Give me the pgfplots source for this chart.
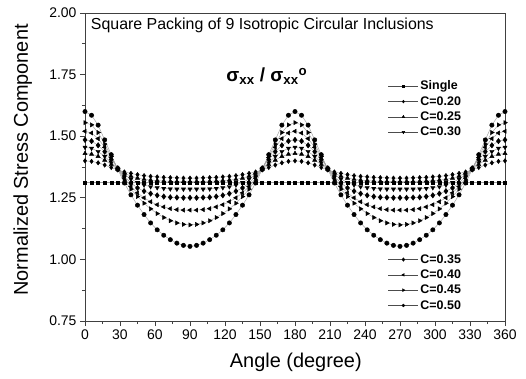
\documentclass[border=0pt]{standalone}
\usepackage{fontspec}
\setmainfont{Liberation Sans}
\usepackage{pgfplots}
\usepackage{pgfplotstable}
\pgfplotsset{compat=1.18}

% Normalized stress sigma_xx / sigma_xx^o around the inclusion boundary
\pgfplotstableread{
ang      s      c20   c25   c30   c35   c40   c45   c50
0        1.313  1.400 1.430 1.455 1.485 1.520 1.555 1.600
5.625    1.313  1.398 1.427 1.451 1.480 1.513 1.546 1.585
11.25    1.313  1.392 1.418 1.438 1.463 1.490 1.515 1.545
16.875   1.313  1.383 1.403 1.418 1.437 1.455 1.468 1.485
22.5     1.313  1.373 1.385 1.393 1.405 1.413 1.418 1.425
28.125   1.313  1.363 1.365 1.367 1.370 1.370 1.368 1.365
33.75    1.313  1.355 1.350 1.345 1.338 1.330 1.322 1.310
39.375   1.313  1.349 1.338 1.326 1.310 1.296 1.285 1.262
45       1.313  1.344 1.330 1.312 1.290 1.270 1.255 1.220
50.625   1.313  1.340 1.325 1.302 1.277 1.250 1.228 1.182
56.25    1.313  1.337 1.322 1.295 1.267 1.234 1.205 1.148
61.875   1.313  1.335 1.320 1.291 1.260 1.222 1.186 1.120
67.5     1.313  1.333 1.318 1.288 1.255 1.213 1.170 1.098
73.125   1.313  1.332 1.317 1.286 1.252 1.206 1.157 1.080
78.75    1.313  1.331 1.316 1.285 1.251 1.202 1.148 1.066
84.375   1.313  1.330 1.316 1.285 1.250 1.200 1.142 1.057
90       1.313  1.330 1.316 1.285 1.250 1.200 1.140 1.053
95.625   1.313  1.330 1.316 1.285 1.250 1.200 1.142 1.057
101.25   1.313  1.331 1.316 1.285 1.251 1.202 1.148 1.066
106.875  1.313  1.332 1.317 1.286 1.252 1.206 1.157 1.080
112.5    1.313  1.333 1.318 1.288 1.255 1.213 1.170 1.098
118.125  1.313  1.335 1.320 1.291 1.260 1.222 1.186 1.120
123.75   1.313  1.337 1.322 1.295 1.267 1.234 1.205 1.148
129.375  1.313  1.340 1.325 1.302 1.277 1.250 1.228 1.182
135      1.313  1.344 1.330 1.312 1.290 1.270 1.255 1.220
140.625  1.313  1.349 1.338 1.326 1.310 1.296 1.285 1.262
146.25   1.313  1.355 1.350 1.345 1.338 1.330 1.322 1.310
151.875  1.313  1.363 1.365 1.367 1.370 1.370 1.368 1.365
157.5    1.313  1.373 1.385 1.393 1.405 1.413 1.418 1.425
163.125  1.313  1.383 1.403 1.418 1.437 1.455 1.468 1.485
168.75   1.313  1.392 1.418 1.438 1.463 1.490 1.515 1.545
174.375  1.313  1.398 1.427 1.451 1.480 1.513 1.546 1.585
180      1.313  1.400 1.430 1.455 1.485 1.520 1.555 1.600
185.625  1.313  1.398 1.427 1.451 1.480 1.513 1.546 1.585
191.25   1.313  1.392 1.418 1.438 1.463 1.490 1.515 1.545
196.875  1.313  1.383 1.403 1.418 1.437 1.455 1.468 1.485
202.5    1.313  1.373 1.385 1.393 1.405 1.413 1.418 1.425
208.125  1.313  1.363 1.365 1.367 1.370 1.370 1.368 1.365
213.75   1.313  1.355 1.350 1.345 1.338 1.330 1.322 1.310
219.375  1.313  1.349 1.338 1.326 1.310 1.296 1.285 1.262
225      1.313  1.344 1.330 1.312 1.290 1.270 1.255 1.220
230.625  1.313  1.340 1.325 1.302 1.277 1.250 1.228 1.182
236.25   1.313  1.337 1.322 1.295 1.267 1.234 1.205 1.148
241.875  1.313  1.335 1.320 1.291 1.260 1.222 1.186 1.120
247.5    1.313  1.333 1.318 1.288 1.255 1.213 1.170 1.098
253.125  1.313  1.332 1.317 1.286 1.252 1.206 1.157 1.080
258.75   1.313  1.331 1.316 1.285 1.251 1.202 1.148 1.066
264.375  1.313  1.330 1.316 1.285 1.250 1.200 1.142 1.057
270      1.313  1.330 1.316 1.285 1.250 1.200 1.140 1.053
275.625  1.313  1.330 1.316 1.285 1.250 1.200 1.142 1.057
281.25   1.313  1.331 1.316 1.285 1.251 1.202 1.148 1.066
286.875  1.313  1.332 1.317 1.286 1.252 1.206 1.157 1.080
292.5    1.313  1.333 1.318 1.288 1.255 1.213 1.170 1.098
298.125  1.313  1.335 1.320 1.291 1.260 1.222 1.186 1.120
303.75   1.313  1.337 1.322 1.295 1.267 1.234 1.205 1.148
309.375  1.313  1.340 1.325 1.302 1.277 1.250 1.228 1.182
315      1.313  1.344 1.330 1.312 1.290 1.270 1.255 1.220
320.625  1.313  1.349 1.338 1.326 1.310 1.296 1.285 1.262
326.25   1.313  1.355 1.350 1.345 1.338 1.330 1.322 1.310
331.875  1.313  1.363 1.365 1.367 1.370 1.370 1.368 1.365
337.5    1.313  1.373 1.385 1.393 1.405 1.413 1.418 1.425
343.125  1.313  1.383 1.403 1.418 1.437 1.455 1.468 1.485
348.75   1.313  1.392 1.418 1.438 1.463 1.490 1.515 1.545
354.375  1.313  1.398 1.427 1.451 1.480 1.513 1.546 1.585
360      1.313  1.400 1.430 1.455 1.485 1.520 1.555 1.600
}\stressdata

\pgfplotsset{
  stressaxis/.style={
    width=420bp, height=308bp, scale only axis,
    xmin=0, xmax=360, ymin=0.75, ymax=2.0,
  },
  curve/.style={gray!75, line width=0.45bp,
    legend image code/.code={%
      \draw[##1,black!70,mark indices={2},every mark/.append style={scale=0.65}]
        plot coordinates {(0bp,0bp) (15bp,0bp) (30bp,0bp)};}},
  mylegend/.style={
    legend cell align=left,
    legend style={draw=none, fill=none,
      font=\fontsize{12.5}{15}\selectfont\bfseries,
      inner sep=0pt, row sep=1.5bp,
      nodes={inner sep=1.8bp}},
  },
}

\begin{document}
\begin{tikzpicture}
\begin{axis}[stressaxis, name=main,
  axis line style={black!75, line width=0.9bp},
  tick align=outside, tick pos=left,
  xtick distance=30, ytick={0.75,1.00,1.25,1.50,1.75,2.00},
  minor x tick num=1, minor y tick num=1,
  major tick length=5bp, minor tick length=3bp,
  every tick/.style={black!75, line width=0.8bp},
  ticklabel style={font=\fontsize{14}{16}\selectfont},
  /pgf/number format/assume math mode=true,
  yticklabel style={/pgf/number format/.cd, fixed, fixed zerofill, precision=2},
  xlabel={Angle (degree)}, ylabel={Normalized Stress Component},
  label style={font=\fontsize{20}{24}\selectfont},
  xlabel style={at={(axis description cs:0.502,-0.133)}, anchor=center},
  ylabel style={at={(axis description cs:-0.148,0.523)}, anchor=center},
  mylegend, legend style={at={(axis description cs:0.7214,0.688)}, anchor=west},
]
\addplot[curve, mark=square*, mark size=1.5bp, mark options={black, fill=black}]
  table[x=ang, y=s]{\stressdata};
\addlegendentry{Single}
\addplot[curve, mark=diamond*, mark size=2.2bp, mark options={black, fill=black}]
  table[x=ang, y=c20]{\stressdata};
\addlegendentry{C=0.20}
\addplot[curve, mark=triangle*, mark size=2.4bp, mark options={black, fill=black}]
  table[x=ang, y=c25]{\stressdata};
\addlegendentry{C=0.25}
\addplot[curve, mark=triangle*, mark size=2.4bp, mark options={black, fill=black, rotate=180}]
  table[x=ang, y=c30]{\stressdata};
\addlegendentry{C=0.30}

\node[anchor=west, inner sep=0pt, font=\fontsize{16}{19}\selectfont]
  at (rel axis cs:0.0136,0.961) {Square Packing of 9 Isotropic Circular Inclusions};
\node[font=\fontsize{19}{23}\selectfont\bfseries]
  at (rel axis cs:0.433,0.795) {σ\textsubscript{xx} / σ\textsubscript{xx}\textsuperscript{o}};
\end{axis}

\begin{axis}[stressaxis, hide axis,
  mylegend, legend style={at={(axis description cs:0.7214,0.125)}, anchor=west},
]
\addplot[curve, mark=diamond*, mark size=2.7bp, mark options={black, fill=black}]
  table[x=ang, y=c35]{\stressdata};
\addlegendentry{C=0.35}
\addplot[curve, mark=triangle*, mark size=2.4bp, mark options={black, fill=black, rotate=90}]
  table[x=ang, y=c40]{\stressdata};
\addlegendentry{C=0.40}
\addplot[curve, mark=triangle*, mark size=2.4bp, mark options={black, fill=black, rotate=-90}]
  table[x=ang, y=c45]{\stressdata};
\addlegendentry{C=0.45}
\addplot[curve, mark=*, mark size=2.2bp, mark options={black, fill=black}]
  table[x=ang, y=c50]{\stressdata};
\addlegendentry{C=0.50}
\end{axis}

\pgfresetboundingbox
\path ([shift={(-85bp,-58bp)}]main.south west) rectangle ([shift={(21bp,13bp)}]main.north east);
\end{tikzpicture}
\end{document}
